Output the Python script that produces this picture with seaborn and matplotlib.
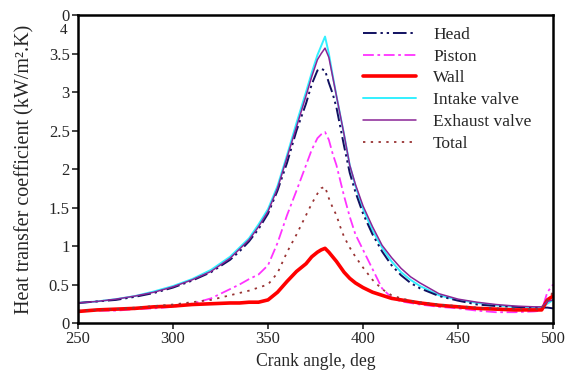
import numpy as np
import pandas as pd
import matplotlib
matplotlib.use("Agg")
import matplotlib.pyplot as plt
import seaborn as sns

crank = [250, 260, 270, 280, 290, 300, 310, 320, 330, 335, 340, 345, 350, 355, 360, 365,
         370, 373, 376, 378, 380, 382, 384, 386, 388, 390, 393, 396, 400, 405, 410, 415,
         420, 425, 430, 440, 450, 460, 470, 480, 490, 494, 497, 500]

head = [0.26, 0.28, 0.30, 0.34, 0.39, 0.46, 0.55, 0.66, 0.82, 0.93, 1.06, 1.22, 1.42, 1.72,
        2.08, 2.50, 2.85, 3.10, 3.28, 3.30, 3.28, 3.12, 2.98, 2.80, 2.55, 2.30, 1.95, 1.70,
        1.42, 1.15, 0.93, 0.75, 0.62, 0.52, 0.45, 0.35, 0.29, 0.24, 0.22, 0.21, 0.20, 0.20,
        0.20, 0.19]
piston = [0.15, 0.16, 0.16, 0.18, 0.19, 0.21, 0.25, 0.32, 0.44, 0.50, 0.57, 0.63, 0.75, 1.04,
          1.40, 1.72, 2.05, 2.25, 2.40, 2.45, 2.48, 2.38, 2.20, 2.05, 1.85, 1.65, 1.38, 1.15,
          0.95, 0.70, 0.45, 0.33, 0.28, 0.26, 0.24, 0.21, 0.19, 0.16, 0.14, 0.14, 0.15, 0.16,
          0.40, 0.50]
wall = [0.15, 0.17, 0.18, 0.19, 0.21, 0.22, 0.24, 0.25, 0.26, 0.26, 0.27, 0.27, 0.30, 0.40,
        0.54, 0.67, 0.77, 0.86, 0.92, 0.95, 0.97, 0.92, 0.86, 0.80, 0.73, 0.66, 0.58, 0.52,
        0.46, 0.40, 0.36, 0.32, 0.30, 0.28, 0.26, 0.23, 0.21, 0.19, 0.18, 0.17, 0.17, 0.17,
        0.30, 0.35]
intake = [0.26, 0.28, 0.31, 0.35, 0.41, 0.48, 0.57, 0.69, 0.86, 0.98, 1.10, 1.28, 1.48, 1.78,
          2.18, 2.60, 3.00, 3.25, 3.48, 3.60, 3.72, 3.50, 3.22, 2.95, 2.70, 2.45, 2.05, 1.78,
          1.48, 1.20, 0.98, 0.80, 0.66, 0.56, 0.48, 0.36, 0.30, 0.26, 0.23, 0.21, 0.20, 0.20,
          0.25, 0.30]
exhaust = [0.26, 0.28, 0.31, 0.35, 0.40, 0.47, 0.56, 0.67, 0.84, 0.96, 1.08, 1.25, 1.45, 1.75,
           2.15, 2.55, 2.95, 3.20, 3.42, 3.50, 3.57, 3.45, 3.20, 2.95, 2.70, 2.45, 2.05, 1.80,
           1.52, 1.25, 1.01, 0.85, 0.71, 0.60, 0.52, 0.38, 0.31, 0.27, 0.24, 0.22, 0.21, 0.21,
           0.28, 0.30]
total = [0.16, 0.17, 0.18, 0.20, 0.22, 0.24, 0.27, 0.30, 0.36, 0.39, 0.42, 0.46, 0.50, 0.65,
         0.92, 1.15, 1.40, 1.55, 1.68, 1.75, 1.77, 1.62, 1.50, 1.40, 1.25, 1.12, 0.98, 0.86,
         0.72, 0.56, 0.44, 0.36, 0.32, 0.29, 0.27, 0.24, 0.22, 0.20, 0.19, 0.18, 0.18, 0.18,
         0.30, 0.40]

series_names = ["Head", "Piston", "Wall", "Intake valve", "Exhaust valve", "Total"]
series_vals = [head, piston, wall, intake, exhaust, total]
x_ticks = [250, 300, 350, 400, 450, 500]
y_ticks = [0, 0.5, 1, 1.5, 2, 2.5, 3, 3.5, 4]
y_tick_labels = ["0", "0.5", "1", "1.5", "2", "2.5", "3", "3.5", "0"]

styles = {
    "Head": dict(color="#101060", lw=1.4, dashes=(7, 2, 1.2, 2, 1.2, 2)),
    "Piston": dict(color="#ff33ff", lw=1.3, dashes=(6, 2, 1.5, 2)),
    "Wall": dict(color="#ff0000", lw=2.6, dashes=None),
    "Intake valve": dict(color="#33f0ff", lw=1.4, dashes=None),
    "Exhaust valve": dict(color="#8a2596", lw=1.1, dashes=None),
    "Total": dict(color="#993333", lw=1.3, dashes=(1.3, 3)),
}

sns.set_style("ticks")
plt.rcParams["font.family"] = ["Liberation Serif", "DejaVu Serif"]

fig = plt.figure(figsize=(5.67, 3.78), dpi=100)
ax = fig.add_axes([0.1376, 0.1455, 0.8378, 0.8148])

for name, vals in zip(series_names, series_vals):
    df = pd.DataFrame({"x": crank, "y": vals})
    st = styles[name]
    sns.lineplot(data=df, x="x", y="y", ax=ax, color=st["color"], lw=st["lw"],
                 label=name, estimator=None, sort=False)
    ln = ax.lines[-1]
    if st["dashes"] is not None:
        ln.set_dashes(st["dashes"])
    if name == "Intake valve":
        ln.set_zorder(1.5)

ax.set_xlim(250, 500)
ax.set_ylim(0, 4)
ax.set_xticks(x_ticks)
ax.set_xticklabels([str(v) for v in x_ticks])
ax.set_yticks(y_ticks)
ax.set_yticklabels(y_tick_labels)
ax.text(-0.022, 3.8, "4", transform=ax.get_yaxis_transform(), ha="right", va="center",
        fontsize=11)

ax.tick_params(axis="both", direction="out", length=4, width=1.2, labelsize=12, pad=2)
for sp in ax.spines.values():
    sp.set_linewidth(1.8)
    sp.set_color("black")

ax.set_xlabel("Crank angle, deg", fontsize=12.7, labelpad=4)
ax.set_ylabel("Heat transfer coefficient (kW/m\u00b2.K)", fontsize=14.5, labelpad=10)

leg = ax.legend(loc="upper left", bbox_to_anchor=(0.585, 0.985), frameon=False,
                fontsize=12.5, handlelength=3.05, handletextpad=1.0, labelspacing=0.33,
                borderaxespad=0)

fig.savefig("out.png", dpi=100)
